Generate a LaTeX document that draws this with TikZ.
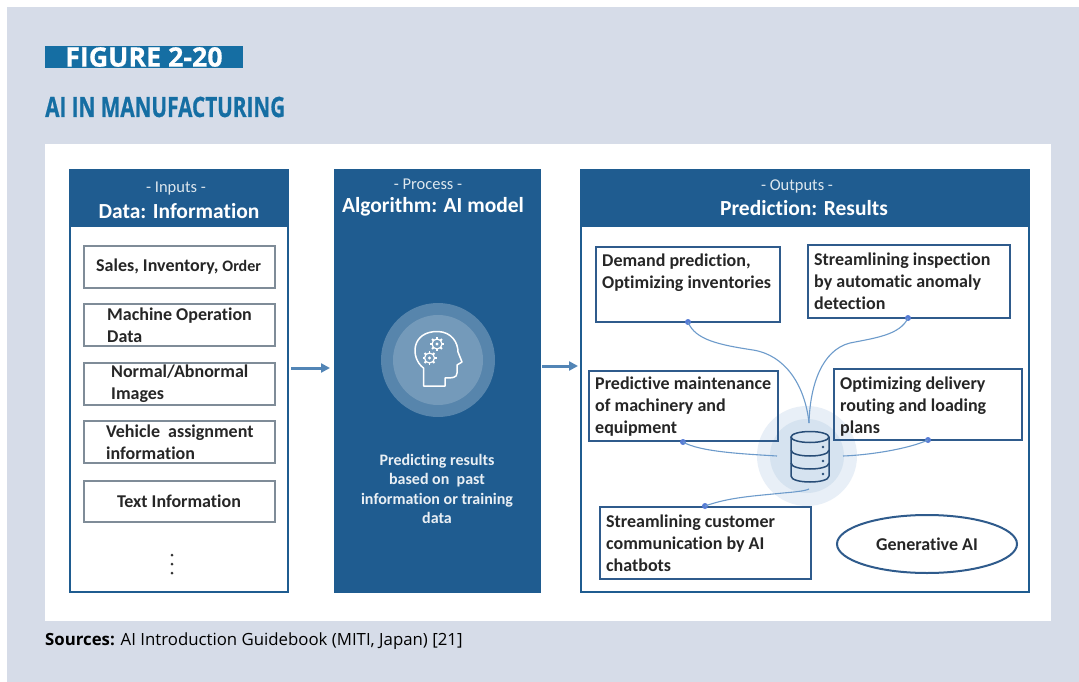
\documentclass[tikz,border=0pt]{standalone}
\usepackage{fontspec}
\setmainfont{Carlito}[Ligatures=NoCommon]
\newfontfamily\figfont[BoldFeatures={FakeBold=0.6}]{Open Sans}
\newfontfamily\titlefont[FakeStretch=0.74,BoldFeatures={FakeBold=0.6,FakeStretch=0.74}]{Open Sans}
\newfontfamily\notefont{Open Sans}
\usetikzlibrary{positioning,shapes.geometric,arrows.meta}
\definecolor{pagebg}{HTML}{D6DCE8}
\definecolor{ttlblue}{HTML}{156EA3}
\definecolor{panelblue}{HTML}{1F5C90}
\definecolor{boxedge}{HTML}{2F5B8C}
\definecolor{greyedge}{HTML}{7F8C98}
\definecolor{linkblue}{HTML}{6D9BCB}
\tikzstyle{panel}=[draw=panelblue,line width=2pt]
\tikzstyle{hdr}=[fill=panelblue,draw=panelblue,line width=2pt]
\tikzstyle{small}=[text=white!85!panelblue,font=\fontsize{16.5}{18}\selectfont]
\tikzstyle{head}=[text=white,font=\fontsize{21.5}{24}\selectfont\bfseries]
\tikzstyle{txt}=[inner sep=0pt,font=\fontsize{18}{22}\selectfont\bfseries,text=black!85]
\tikzstyle{inbox}=[draw=greyedge,line width=1.6pt,anchor=north west,inner sep=0pt]
\tikzstyle{outbox}=[draw=boxedge,line width=2pt,anchor=north west,inner sep=0pt]
\tikzstyle{link}=[draw=linkblue,line width=1.1pt]
\tikzstyle{dotnd}=[circle,fill=linkblue!80!blue,inner sep=0pt,minimum size=6pt]
\tikzstyle{flow}=[-{Triangle[length=9pt,width=9pt]},draw=linkblue!65!panelblue,line width=3pt]
\begin{document}
\begin{tikzpicture}[x=1pt,y=-1pt]
\useasboundingbox (0,0) rectangle (1079,682);
\fill[pagebg] (7,7) rectangle (1079,682);
% title
\fill[ttlblue] (45,46) rectangle (243,68);
\node[anchor=west,inner sep=0pt,text=white,font=\figfont\fontsize{26.8}{28}\selectfont\bfseries] (fig) at (65,57) {FIGURE 2-20};
\node[anchor=west,inner sep=0pt,text=ttlblue,font=\titlefont\fontsize{28}{30}\selectfont\bfseries] (ttl) at (45,107) {AI IN MANUFACTURING};
\fill[white] (45,144) rectangle (1051,621);
% inputs
\draw[panel] (70,170) rectangle (288,592);
\fill[hdr] (70,170) rectangle (288,226);
\node[small] (inlbl) at (176,189) {- Inputs -};
\node[head] (inhd) at (179,211) {Data: Information};
\node[inbox,minimum width=191pt,minimum height=42pt] (in1) at (83,245) {};
\node[txt,anchor=west] (in1t) at (96,267) {Sales, Inventory, {\fontsize{16}{20}\selectfont Order}};
\node[inbox,minimum width=191pt,minimum height=42pt] (in2) at (83,303) {};
\node[txt,anchor=west,align=left] (in2t) at (107,325) {Machine Operation\\Data};
\node[inbox,minimum width=191pt,minimum height=42pt] (in3) at (83,362) {};
\node[txt,anchor=west,align=left] (in3t) at (111,384) {Normal/Abnormal\\Images};
\node[inbox,minimum width=191pt,minimum height=42pt] (in4) at (83,420) {};
\node[txt,anchor=west,align=left] (in4t) at (106,442) {Vehicle\ \ assignment\\information};
\node[inbox,minimum width=191pt,minimum height=41pt] (in5) at (83,480) {};
\node[txt] (in5t) at (179,501) {Text Information};
\foreach \yy in {555,564,573} \fill[black!80] (172,\yy) circle (1.5pt);
% process
\fill[hdr] (335,170) rectangle (540,592);
\node[small] (prlbl) at (428,184.5) {- Process -};
\node[head] (prhd) at (433,207) {Algorithm: AI model};
\fill[white!25!panelblue] (438,360) circle (57pt);
\fill[white!38!panelblue] (438,360) circle (45pt);
\draw[white,line width=1.5pt,line join=round] (423.5,386) -- (423.5,368) .. controls (410,358) and (411,331) .. (438,331.5)
  .. controls (452,332) and (458,343) .. (458,352) -- (462,362) -- (457,365) -- (457,373) .. controls (457,378) and (452,378) .. (445,378) -- (445,386) -- cycle;
\foreach \cx/\cy in {437/344,429.5/358}{
  \draw[white,line width=1.2pt] (\cx,\cy) circle (5pt);
  \draw[white,line width=.8pt,fill=white] (\cx,\cy) circle (1pt);
  \foreach \aa in {0,45,...,315} \draw[white,line width=1.8pt] (\cx,\cy) ++(\aa:5pt) -- ++(\aa:2pt);
}
\node[align=center,inner sep=0pt,text=white!90!panelblue,font=\fontsize{16}{19.5}\selectfont\bfseries] (prtxt) at (437,489) {Predicting results\\based on\ \ past\\information or training\\data};
% outputs
\draw[panel] (581,170) rectangle (1029,592);
\fill[hdr] (581,170) rectangle (1029,226);
\node[small] (outlbl) at (797,186) {- Outputs -};
\node[head] (outhd) at (804,208) {Prediction: Results};
\fill[linkblue!16] (807,456) circle (50pt);
\fill[linkblue!28] (807,456) circle (37pt);
\node[outbox,minimum width=184pt,minimum height=75pt] (o1) at (595,246) {};
\node[txt,anchor=north west,align=left] (o1t) at (602,254) {Demand prediction,\\Optimizing inventories};
\node[outbox,minimum width=202pt,minimum height=73pt] (o2) at (807,244) {};
\node[txt,anchor=north west,align=left] (o2t) at (814,252.5) {Streamlining inspection\\by automatic anomaly\\detection};
\node[outbox,minimum width=189pt,minimum height=70pt] (o3) at (588,370) {};
\node[txt,anchor=north west,align=left] (o3t) at (595,377) {Predictive maintenance\\of machinery and\\equipment};
\node[outbox,minimum width=188pt,minimum height=71pt] (o4) at (833,368) {};
\node[txt,anchor=north west,align=left] (o4t) at (840,376.5) {Optimizing delivery\\routing and loading\\plans};
\node[outbox,minimum width=211pt,minimum height=72pt] (o5) at (599,506) {};
\node[txt,anchor=north west,align=left] (o5t) at (606,514.5) {Streamlining customer\\communication by AI\\chatbots};
\node[txt,ellipse,draw=boxedge,line width=2pt,minimum width=180pt,minimum height=58pt] (gen) at (927,544) {Generative AI};
% database
\coordinate (dbt) at (809,423);
\coordinate (dbl) at (777,456);
\coordinate (dbr) at (843,456);
\coordinate (dbb) at (809,489);
\draw[boxedge!85!black,line width=1.5pt,fill=linkblue!28] (791,437) -- (791,476) .. controls (791,484) and (829,484) .. (829,476) -- (829,437);
\draw[boxedge!85!black,line width=1.5pt] (810,437) ellipse (19pt and 5.5pt);
\draw[boxedge!85!black,line width=1.5pt] (791,450) .. controls (791,458) and (829,458) .. (829,450);
\draw[boxedge!85!black,line width=1.5pt] (791,463) .. controls (791,471) and (829,471) .. (829,463);
\foreach \yy in {447,461,474} \fill[boxedge!85!black] (823,\yy) circle (1.3pt);
% links
\node[dotnd] (d1) at (688,322) {};
\node[dotnd] (d2) at (908,318) {};
\node[dotnd] (d3) at (683,442) {};
\node[dotnd] (d4) at (928,440) {};
\node[dotnd] (d5) at (705,506) {};
\draw[link] (d1.center) .. controls (695,340) and (720,345) .. (753,350) .. controls (785,355) and (805,385) .. (dbt);
\draw[link] (d2.center) .. controls (900,335) and (875,338) .. (850,343) .. controls (822,350) and (810,385) .. (dbt);
\draw[link] (d3.center) .. controls (700,452) and (745,454) .. (dbl);
\draw[link] (d4.center) .. controls (908,449) and (870,455) .. (dbr);
\draw[link] (d5.center) .. controls (730,497) and (755,496) .. (783,493) .. controls (795,492) and (805,491) .. (dbb);
% arrows between panels
\coordinate (a1) at (291,368);
\coordinate (a2) at (330,368);
\coordinate (a3) at (542,366);
\coordinate (a4) at (578,366);
\draw[flow] (a1) -- (a2);
\draw[flow] (a3) -- (a4);
% source
\node[anchor=west,inner sep=0pt,font=\notefont\fontsize{16.8}{18}\selectfont] (src) at (45,641) {\textbf{Sources:} AI Introduction Guidebook (MITI, Japan) [21]};
\end{tikzpicture}
\end{document}
